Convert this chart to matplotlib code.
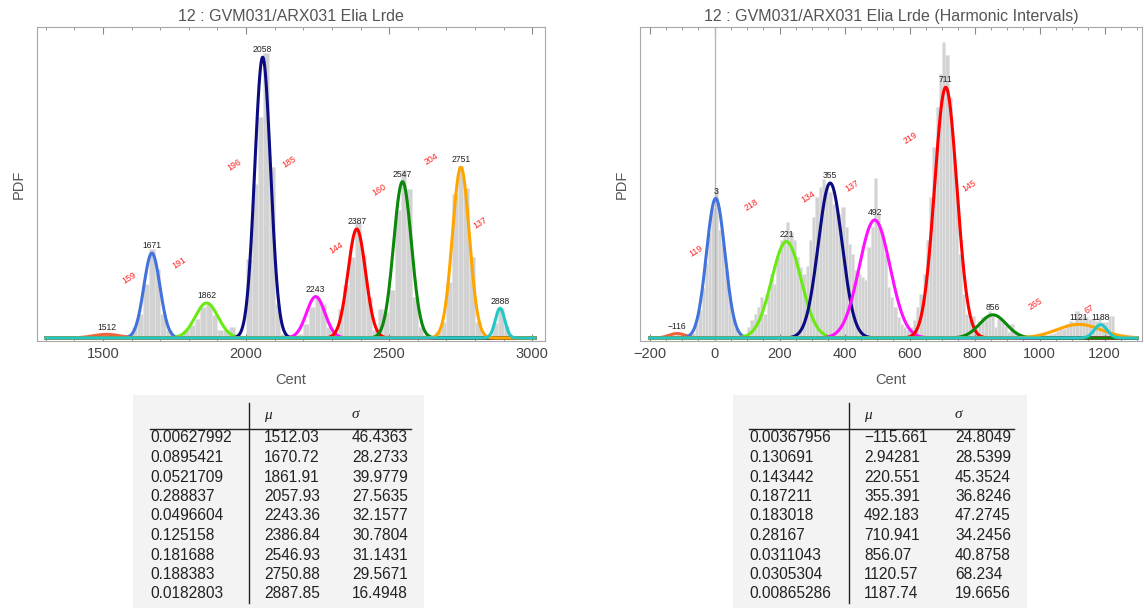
import matplotlib
matplotlib.use('Agg')
import matplotlib.pyplot as plt
import numpy as np
from matplotlib.lines import Line2D
from matplotlib.patches import Rectangle
from matplotlib.ticker import MultipleLocator

plt.rcParams['font.family'] = ['Liberation Sans', 'DejaVu Sans']

# mixture fit, left panel (weight, mean, sigma)
left_w = [0.00627992, 0.0895421, 0.0521709, 0.288837, 0.0496604, 0.125158, 0.181688, 0.188383, 0.0182803]
left_mu = [1512.03, 1670.72, 1861.91, 2057.93, 2243.36, 2386.84, 2546.93, 2750.88, 2887.85]
left_sd = [46.4363, 28.2733, 39.9779, 27.5635, 32.1577, 30.7804, 31.1431, 29.5671, 16.4948]

# mixture fit, right panel (harmonic intervals)
right_w = [0.00367956, 0.130691, 0.143442, 0.187211, 0.183018, 0.28167, 0.0311043, 0.0305304, 0.00865286]
right_mu = [-115.661, 2.94281, 220.551, 355.391, 492.183, 710.941, 856.07, 1120.57, 1187.74]
right_sd = [24.8049, 28.5399, 45.3524, 36.8246, 47.2745, 34.2456, 40.8758, 68.234, 19.6656]

comp_colors = ['#f0643c', '#4272dc', '#6aea12', '#0c0c82', '#ff10ff',
               '#ff0000', '#0a880a', '#ffa500', '#22c8c8']

# histogram densities (x 1e-3)
left_bin0, left_binw = 1580, 20
left_hist = [0.04, 0.16, 0.36, 0.80, 1.32, 1.03, 0.36, 0.12, 0.0, 0.0,
             0.12, 0.19, 0.28, 0.46, 0.51, 0.34, 0.12, 0.12, 0.16, 0.04,
             0.0, 1.18, 2.29, 3.29, 4.25, 2.54, 0.51, 0.06, 0.0, 0.0,
             0.06, 0.21, 0.46, 0.61, 0.51, 0.16, 0.06, 0.43, 0.79, 1.20,
             1.73, 1.23, 0.61, 0.12, 0.43, 0.39, 0.71, 1.90, 2.50, 2.22,
             0.61, 0.16, 0.04, 0.0, 0.09, 0.24, 0.83, 2.14, 2.56, 2.23,
             1.20, 0.24, 0.06, 0.0, 0.22, 0.45, 0.18]

right_bin0, right_binw = -140, 10
right_hist = [0.01, 0.04, 0.05, 0.04, 0.03, 0.03, 0.05, 0.07, 0.18, 0.37,
              0.65, 0.98, 1.37, 1.70, 1.95, 1.42, 1.24, 0.89, 0.55, 0.29,
              0.13, 0.05, 0.03, 0.05, 0.14, 0.24, 0.31, 0.41, 0.54, 0.31,
              0.58, 0.84, 0.71, 1.06, 1.28, 1.32, 1.52, 1.39, 1.28, 1.06,
              0.93, 0.84, 0.94, 1.28, 1.58, 1.84, 1.97, 2.08, 2.01, 1.91,
              1.75, 1.71, 1.62, 1.71, 1.45, 1.23, 1.10, 0.89, 0.84, 0.80,
              0.76, 1.19, 1.45, 2.10, 1.62, 1.39, 1.10, 0.67, 0.54, 0.41,
              0.27, 0.18, 0.14, 0.10, 0.14, 0.24, 0.41, 0.58, 0.84, 1.28,
              1.84, 2.50, 3.02, 3.45, 3.87, 3.70, 3.15, 2.41, 1.88, 1.10,
              0.58, 0.31, 0.24, 0.29, 0.12, 0.22, 0.27, 0.29, 0.35, 0.29,
              0.14, 0.25, 0.21, 0.16, 0.08, 0.18, 0.09, 0.05, 0.03, 0.03,
              0.04, 0.03, 0.04, 0.03, 0.05, 0.05, 0.04, 0.05, 0.07, 0.09,
              0.14, 0.12, 0.18, 0.22, 0.21, 0.35, 0.27, 0.29, 0.27, 0.25,
              0.25, 0.22, 0.27, 0.21, 0.21, 0.29, 0.29, 0.05]

W, H = 1144, 614
fig = plt.figure(figsize=(W / 100, H / 100), dpi=100)


def box(x0, y0, x1, y1):
    # pixel box (from top-left) -> figure fraction rect
    return [x0 / W, 1 - y1 / H, (x1 - x0) / W, (y1 - y0) / H]


def gauss(x, w, m, s):
    return w * np.exp(-0.5 * ((x - m) / s) ** 2) / (s * np.sqrt(2 * np.pi))


def fmt(v):
    return f"{v:.6g}".replace('-', '\u2212')


def panel(ax, w, mu, sd, hist, b0, bw, xr, xlim, ylim, title, major, minor):
    edges = b0 + bw * np.arange(len(hist))
    ax.bar(edges, np.array(hist) * 1e-3, width=bw, align='edge',
           color='#d2d2d2', edgecolor='#e6e6e6', linewidth=0.4, zorder=1)
    xs = np.linspace(xr[0], xr[1], 1500)
    peaks = []
    for wi, mi, si, c in zip(w, mu, sd, comp_colors):
        ax.plot(xs, gauss(xs, wi, mi, si), color=c, lw=2.2, zorder=3)
        peaks.append(gauss(mi, wi, mi, si))
    rmu = [int(round(m)) for m in mu]
    for m, p, r in zip(mu, peaks, rmu):
        ax.annotate(str(r).replace('-', '\u2212'), (m, p), xytext=(0, 2),
                    textcoords='offset points', ha='center', va='bottom',
                    fontsize=6.2, color='#222222', zorder=5)
    for i in range(len(mu) - 1):
        xm = (mu[i] + mu[i + 1]) / 2
        ym = (peaks[i] + peaks[i + 1]) / 2
        ax.annotate(str(rmu[i + 1] - rmu[i]), (xm, ym), xytext=(0, 11),
                    textcoords='offset points', ha='center', va='center',
                    rotation=32, fontsize=6.3, color='#ff2020', zorder=5)
    ax.set_xlim(*xlim)
    ax.set_ylim(*ylim)
    ax.set_yticks([])
    ax.xaxis.set_major_locator(MultipleLocator(major))
    ax.xaxis.set_minor_locator(MultipleLocator(minor))
    ax.tick_params(axis='x', which='both', direction='in', top=True,
                   colors='#888888', labelcolor='#444444', labelsize=10.5, pad=4)
    ax.tick_params(axis='x', which='major', length=5, width=0.8)
    ax.tick_params(axis='x', which='minor', length=2.5, width=0.6)
    for sp in ax.spines.values():
        sp.set_color('#a8a8a8')
        sp.set_linewidth(0.8)
    ax.set_xlabel('Cent', fontsize=10.5, color='#555555', labelpad=9)
    ax.set_ylabel('PDF', fontsize=10.5, color='#555555', labelpad=8)
    ax.set_title(title, fontsize=11.5, color='#555555', pad=4)
    ax.xaxis.set_major_formatter(plt.FuncFormatter(lambda v, p: f"{v:.0f}".replace('-', '\u2212')))


axL = fig.add_axes(box(37, 27, 545, 341))
panel(axL, left_w, left_mu, left_sd, left_hist, left_bin0, left_binw,
      (1300, 3010), (1269, 3045), (-4.5e-5, 4.63e-3),
      '12 : GVM031/ARX031 Elia Lrde', 500, 100)

axR = fig.add_axes(box(640, 27, 1142, 341))
axR.axvline(0, color='#b8b8b8', lw=1.0, zorder=2)
panel(axR, right_w, right_mu, right_sd, right_hist, right_bin0, right_binw,
      (-200, 1300), (-230, 1315), (-3.9e-5, 4.07e-3),
      '12 : GVM031/ARX031 Elia Lrde (Harmonic Intervals)', 200, 50)


def table(x0, x1, xc, xv, w, mu, sd):
    fig.patches.append(Rectangle((x0 / W, 1 - 608 / H), (x1 - x0) / W, (608 - 395) / H,
                                 transform=fig.transFigure, facecolor='#f3f3f3',
                                 edgecolor='none', zorder=0))
    fy = lambda y: 1 - y / H
    fig.text(xc[1] / W, fy(415), '\u03bc', family=['Liberation Serif', 'DejaVu Serif'],
             style='italic', fontsize=11, va='center', color='#222222')
    fig.text(xc[2] / W, fy(415), '\u03c3', family=['Liberation Serif', 'DejaVu Serif'],
             style='italic', fontsize=11, va='center', color='#222222')
    fig.add_artist(Line2D([xc[0] / W, (x1 - 13) / W], [fy(429), fy(429)],
                          transform=fig.transFigure, color='#222222', lw=1.0))
    fig.add_artist(Line2D([xv / W, xv / W], [fy(403), fy(603)],
                          transform=fig.transFigure, color='#222222', lw=1.0))
    for i, (a, b, c) in enumerate(zip(w, mu, sd)):
        y = fy(438 + 19.5 * i)
        for xx, v in zip(xc, (a, b, c)):
            fig.text(xx / W, y, fmt(v), fontsize=11.2, va='center', color='#222222')


table(133, 424, (150, 264, 352), 249, left_w, left_mu, left_sd)
table(733, 1027, (749, 864, 955), 849, right_w, right_mu, right_sd)

fig.savefig('out.png', dpi=100)
